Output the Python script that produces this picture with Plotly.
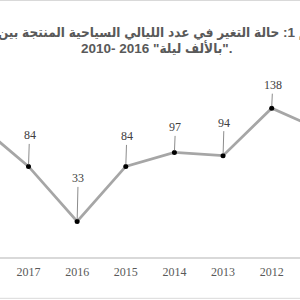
import plotly.graph_objects as go

years = [2018, 2017, 2016, 2015, 2014, 2013, 2012, 2011]
values = [122, 84, 33, 84, 97, 94, 138, 118]
shown_years = [2017, 2016, 2015, 2014, 2013, 2012]
tick_labels = ["2017", "2016", "2015", "2014", "2013", "2012"]
label_offsets = {2017: -31, 2016: -43, 2015: -30, 2014: -25, 2013: -33, 2012: -23}

title_line1 = "شكل رقم 1: حالة التغير في عدد الليالي السياحية المنتجة بين الفترة"
title_line2 = "2010- 2016 \"بالألف ليلة\"."

fig = go.Figure()
fig.add_trace(go.Scatter(
    x=years, y=values, mode="lines+markers",
    line=dict(color="#A6A6A6", width=2.75),
    marker=dict(color="#000000", size=5),
    hoverinfo="skip", showlegend=False,
))

annotations = []
for yr, v in zip(years, values):
    if yr in label_offsets:
        annotations.append(dict(
            x=yr, y=v, xref="x", yref="y", text=str(v),
            showarrow=True, arrowhead=0, arrowwidth=1, arrowcolor="#8C8C8C",
            ax=1, ay=label_offsets[yr], standoff=2,
            font=dict(family="Liberation Serif", size=12, color="#404040"),
        ))

title_font = dict(family="Liberation Sans, DejaVu Sans Condensed, DejaVu Sans",
                  size=13.5, color="#595959")
annotations.append(dict(
    x=0.5217, y=(257 - 32) / 200, xref="paper", yref="paper", text="<b>" + title_line1 + "</b>",
    showarrow=False, xanchor="center", yanchor="middle", font=title_font,
))
annotations.append(dict(
    x=0.5217, y=(257 - 48) / 200, xref="paper", yref="paper", text="<b>" + title_line2 + "</b>",
    showarrow=False, xanchor="center", yanchor="middle", font=title_font,
))

fig.update_layout(
    width=300, height=300, autosize=False,
    margin=dict(l=0, r=0, t=57, b=43, pad=0),
    paper_bgcolor="white", plot_bgcolor="white",
    xaxis=dict(
        range=[2017.586, 2011.418], tickmode="array",
        tickvals=shown_years, ticktext=tick_labels,
        showgrid=False, zeroline=False, showline=True,
        linecolor="#D9D9D9", linewidth=1.5, ticks="", ticklabelstandoff=3,
        tickfont=dict(family="Liberation Serif", size=12, color="#595959"),
    ),
    yaxis=dict(range=[0, 185.46], visible=False, showgrid=False, zeroline=False),
    annotations=annotations,
    shapes=[
        dict(type="line", xref="paper", yref="paper", x0=-0.01, x1=1.01,
             y0=(257 - 0.5) / 200, y1=(257 - 0.5) / 200, line=dict(color="#D9D9D9", width=1)),
        dict(type="line", xref="paper", yref="paper", x0=-0.01, x1=1.01,
             y0=(257 - 298.3) / 200, y1=(257 - 298.3) / 200, line=dict(color="#D9D9D9", width=1)),
    ],
)

fig.write_html("out.html")
